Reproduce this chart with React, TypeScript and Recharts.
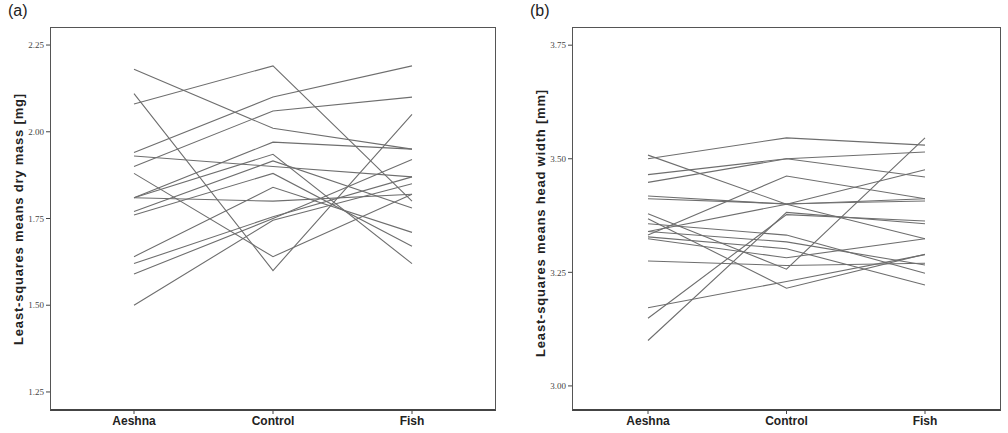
import React from 'react';
import { LineChart, Line, XAxis, YAxis } from 'recharts';

const categories = ['Aeshna', 'Control', 'Fish'];

// (a) dry mass, one entry per line
const massAeshna = [2.18, 2.11, 2.08, 1.94, 1.9, 1.81, 1.93, 1.88, 1.81, 1.77, 1.76, 1.64, 1.81, 1.62, 1.59, 1.5];
const massControl = [2.01, 1.6, 2.19, 2.1, 2.06, 1.97, 1.9, 1.64, 1.935, 1.916, 1.88, 1.84, 1.8, 1.755, 1.75, 1.745];
const massFish = [1.95, 2.05, 1.8, 2.19, 2.1, 1.95, 1.87, 1.82, 1.62, 1.78, 1.67, 1.71, 1.82, 1.87, 1.92, 1.85];
const massTicks = [1.25, 1.5, 1.75, 2.0, 2.25];

// (b) head width, one entry per line
const widthAeshna = [3.5, 3.508, 3.465, 3.448, 3.418, 3.412, 3.332, 3.34, 3.379, 3.1, 3.149, 3.172, 3.275, 3.368, 3.357, 3.34, 3.328, 3.324];
const widthControl = [3.546, 3.4, 3.5, 3.5, 3.4, 3.401, 3.462, 3.4, 3.257, 3.382, 3.377, 3.23, 3.265, 3.215, 3.332, 3.317, 3.302, 3.282];
const widthFish = [3.53, 3.324, 3.46, 3.515, 3.412, 3.407, 3.412, 3.476, 3.546, 3.357, 3.363, 3.289, 3.27, 3.29, 3.248, 3.266, 3.222, 3.324];
const widthTicks = [3.0, 3.25, 3.5, 3.75];

const buildRows = (cols: number[][]) =>
  categories.map((cat, c) => {
    const row: Record<string, string | number> = { cat };
    cols[c].forEach((v, i) => {
      row[`s${i}`] = v;
    });
    return row;
  });

const massData = buildRows([massAeshna, massControl, massFish]);
const widthData = buildRows([widthAeshna, widthControl, widthFish]);

const yTick = { fontFamily: 'Liberation Serif', fontSize: 9, fill: '#444' };
const xTick = { fontFamily: 'Liberation Sans', fontSize: 12, fontWeight: 'bold', fill: '#222' };

interface PanelProps {
  data: Record<string, string | number>[];
  count: number;
  width: number;
  yWidth: number;
  right: number;
  pad: number;
  domain: [number, number];
  ticks: number[];
}

const Panel = ({ data, count, width, yWidth, right, pad, domain, ticks }: PanelProps) => (
  <LineChart width={width} height={433} data={data} margin={{ top: 27, right, bottom: 0, left: 0 }}>
    <XAxis
      dataKey="cat"
      height={23}
      axisLine={false}
      tickLine={{ stroke: '#444' }}
      tickSize={4}
      tickMargin={2}
      tick={xTick}
      padding={{ left: pad, right: pad }}
    />
    <YAxis
      width={yWidth}
      type="number"
      domain={domain}
      ticks={ticks}
      allowDataOverflow
      axisLine={false}
      tickLine={{ stroke: '#444' }}
      tickSize={4}
      tickMargin={2}
      tick={yTick}
      tickFormatter={(v: number) => v.toFixed(2)}
    />
    {Array.from({ length: count }, (_, i) => (
      <Line
        key={i}
        dataKey={`s${i}`}
        stroke="#6e6e6e"
        strokeWidth={1.1}
        dot={false}
        isAnimationActive={false}
      />
    ))}
  </LineChart>
);

const box = (left: number, width: number): React.CSSProperties => ({
  position: 'absolute',
  left,
  top: 27,
  width,
  height: 384,
  boxSizing: 'border-box',
  border: '1px solid #555',
  borderBottom: '2px solid #444',
  pointerEvents: 'none',
});

const yLabel = (x: number, y: number): React.CSSProperties => ({
  position: 'absolute',
  left: x,
  top: y,
  transform: 'translate(-50%, -50%) rotate(-90deg)',
  whiteSpace: 'nowrap',
  fontFamily: 'Liberation Sans',
  fontWeight: 'bold',
  fontSize: 13,
  letterSpacing: 0.8,
  color: '#222',
});

const panelTag: React.CSSProperties = {
  position: 'absolute',
  top: 2,
  fontFamily: 'Liberation Sans',
  fontSize: 16,
  color: '#222',
};

export default function App() {
  return (
    <div style={{ position: 'absolute', left: 0, top: 0, width: 1008, height: 433, background: '#fff', overflow: 'hidden' }}>
      <div style={{ position: 'absolute', left: 0, top: 0 }}>
        <Panel data={massData} count={massAeshna.length} width={500} yWidth={50} right={4} pad={84} domain={[1.198, 2.302]} ticks={massTicks} />
      </div>
      <div style={{ position: 'absolute', left: 500, top: 0 }}>
        <Panel data={widthData} count={widthAeshna.length} width={508} yWidth={72} right={7} pad={76} domain={[2.947, 3.79]} ticks={widthTicks} />
      </div>
      <div style={box(50, 446)} />
      <div style={box(572, 429)} />
      <div style={yLabel(18, 219)}>Least-squares means dry mass [mg]</div>
      <div style={yLabel(540, 223)}>Least-squares means head width [mm]</div>
      <div style={{ ...panelTag, left: 8 }}>(a)</div>
      <div style={{ ...panelTag, left: 530 }}>(b)</div>
    </div>
  );
}
